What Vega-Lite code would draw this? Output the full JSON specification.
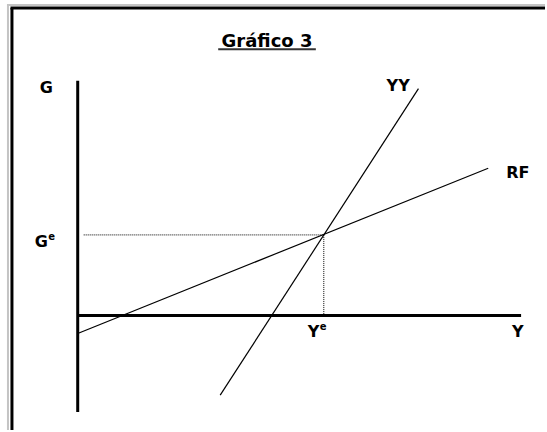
{
  "$schema": "https://vega.github.io/schema/vega-lite/v6.json",
  "width": 547,
  "height": 432,
  "autosize": {"type": "fit", "contains": "padding"},
  "padding": 0,
  "background": "white",
  "view": {"stroke": null},
  "datasets": {
    "segments": [
      {"name": "frame gray left", "kind": "frame_gray", "x": -7.0, "y": 31.3, "x2": -7.0, "y2": -11.5},
      {"name": "frame gray top", "kind": "frame_gray", "x": -7.0, "y": 31.2, "x2": 46.9, "y2": 31.2},
      {"name": "frame black left", "kind": "frame_black", "x": -6.6, "y": 30.9, "x2": -6.6, "y2": -11.5},
      {"name": "frame black top", "kind": "frame_black", "x": -6.75, "y": 30.9, "x2": 46.9, "y2": 30.9},
      {"name": "G axis", "kind": "axis", "x": 0, "y": 23.6, "x2": 0, "y2": -9.7},
      {"name": "Y axis", "kind": "axis", "x": 0, "y": 0, "x2": 44.5, "y2": 0},
      {"name": "YY", "kind": "curve", "x": 14.3, "y": -8.0, "x2": 34.2, "y2": 22.8},
      {"name": "RF", "kind": "curve", "x": 0, "y": -1.8, "x2": 41.2, "y2": 14.8},
      {"name": "Ge guide", "kind": "guide", "x": 0.6, "y": 8.1, "x2": 24.7, "y2": 8.1},
      {"name": "Ye guide", "kind": "guide", "x": 24.7, "y": 8.1, "x2": 24.7, "y2": 0},
      {"name": "title underline", "kind": "underline", "x": 14.1, "y": 26.75, "x2": 23.9, "y2": 26.75}
    ],
    "labels": [
      {"text": "Gráfico 3", "kind": "title", "x": 19.0, "y": 27.0},
      {"text": "G", "kind": "label", "x": -3.8, "y": 22.4},
      {"text": "G", "kind": "label", "x": -4.3, "y": 6.9},
      {"text": "e", "kind": "sup", "x": -2.95, "y": 7.6},
      {"text": "Y", "kind": "label", "x": 23.1, "y": -2.2},
      {"text": "e", "kind": "sup", "x": 24.3, "y": -1.5},
      {"text": "Y", "kind": "label", "x": 43.6, "y": -2.2},
      {"text": "YY", "kind": "label", "x": 31.0, "y": 22.6},
      {"text": "RF", "kind": "label", "x": 43.0, "y": 13.8}
    ]
  },
  "encoding": {
    "x": {"field": "x", "type": "quantitative", "scale": {"domain": [-7.8, 46.9], "nice": false, "zero": false}, "axis": null},
    "y": {"field": "y", "type": "quantitative", "scale": {"domain": [-11.5, 31.7], "nice": false, "zero": false}, "axis": null}
  },
  "layer": [
    {
      "data": {"name": "segments"},
      "transform": [{"filter": "datum.kind === 'frame_gray'"}],
      "mark": {"type": "rule", "color": "#c4c4c4", "strokeWidth": 2},
      "encoding": {"x2": {"field": "x2"}, "y2": {"field": "y2"}}
    },
    {
      "data": {"name": "segments"},
      "transform": [{"filter": "datum.kind === 'frame_black'"}],
      "mark": {"type": "rule", "color": "black", "strokeWidth": 3},
      "encoding": {"x2": {"field": "x2"}, "y2": {"field": "y2"}}
    },
    {
      "data": {"name": "segments"},
      "transform": [{"filter": "datum.kind === 'axis'"}],
      "mark": {"type": "rule", "color": "black", "strokeWidth": 3},
      "encoding": {"x2": {"field": "x2"}, "y2": {"field": "y2"}}
    },
    {
      "data": {"name": "segments"},
      "transform": [{"filter": "datum.kind === 'curve'"}],
      "mark": {"type": "rule", "color": "black", "strokeWidth": 1.2},
      "encoding": {"x2": {"field": "x2"}, "y2": {"field": "y2"}}
    },
    {
      "data": {"name": "segments"},
      "transform": [{"filter": "datum.kind === 'guide'"}],
      "mark": {"type": "rule", "color": "black", "strokeWidth": 1, "strokeDash": [1, 1]},
      "encoding": {"x2": {"field": "x2"}, "y2": {"field": "y2"}}
    },
    {
      "data": {"name": "segments"},
      "transform": [{"filter": "datum.kind === 'underline'"}],
      "mark": {"type": "rule", "color": "#333333", "strokeWidth": 2},
      "encoding": {"x2": {"field": "x2"}, "y2": {"field": "y2"}}
    },
    {
      "data": {"name": "labels"},
      "transform": [{"filter": "datum.kind === 'title'"}],
      "mark": {"type": "text", "font": "DejaVu Sans", "fontWeight": "bold", "fontSize": 18, "align": "center", "baseline": "alphabetic", "color": "black"},
      "encoding": {"text": {"field": "text"}}
    },
    {
      "data": {"name": "labels"},
      "transform": [{"filter": "datum.kind === 'label'"}],
      "mark": {"type": "text", "font": "DejaVu Sans", "fontWeight": "bold", "fontSize": 16, "align": "left", "baseline": "alphabetic", "color": "black"},
      "encoding": {"text": {"field": "text"}}
    },
    {
      "data": {"name": "labels"},
      "transform": [{"filter": "datum.kind === 'sup'"}],
      "mark": {"type": "text", "font": "DejaVu Sans", "fontWeight": "bold", "fontSize": 10, "align": "left", "baseline": "alphabetic", "color": "black"},
      "encoding": {"text": {"field": "text"}}
    }
  ]
}
